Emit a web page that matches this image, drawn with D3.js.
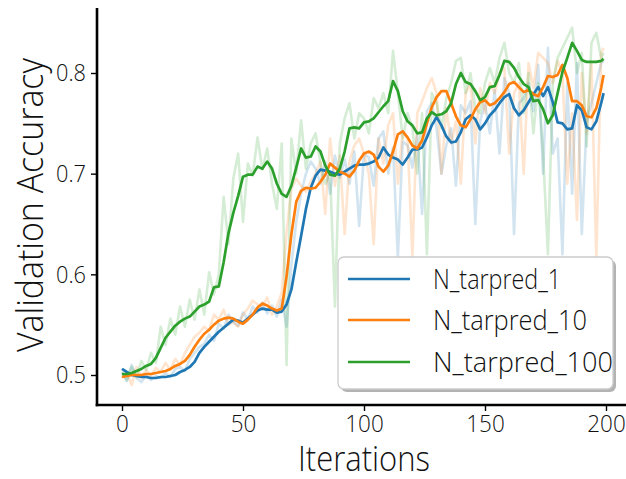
<!DOCTYPE html>
<html>
<head>
<meta charset="utf-8">
<script src="https://cdn.jsdelivr.net/npm/d3@7"></script>
<style>
  html, body { margin: 0; padding: 0; background: #fff; }
  svg { display: block; }
  text { font-family: "Open Sans", "Lato", "Roboto", sans-serif; font-weight: 300; fill: #111; }
</style>
</head>
<body>
<svg id="chart" width="626" height="479"></svg>
<script>
// ---------------- data ----------------
const iterations = [0,2,4,6,8,10,12,14,16,18,20,22,24,26,28,30,32,34,36,38,40,42,44,46,48,50,52,54,56,58,60,62,64,66,68,70,72,74,76,78,80,82,84,86,88,90,92,94,96,98,100,102,104,106,108,110,112,114,116,118,120,122,124,126,128,130,132,134,136,138,140,142,144,146,148,150,152,154,156,158,160,162,164,166,168,170,172,174,176,178,180,182,184,186,188,190,192,194,196,198,199];

const seriesNames = ["N_tarpred_1", "N_tarpred_10", "N_tarpred_100"];

// smoothed curves
const smooth1 = [0.506,0.503,0.500,0.499,0.498,0.498,0.497,0.497,0.498,0.498,0.499,0.500,0.503,0.505,0.508,0.513,0.522,0.528,0.533,0.538,0.543,0.547,0.551,0.555,0.554,0.552,0.556,0.560,0.564,0.566,0.565,0.565,0.562,0.563,0.570,0.585,0.612,0.638,0.665,0.686,0.698,0.704,0.703,0.702,0.700,0.699,0.702,0.705,0.708,0.709,0.709,0.710,0.712,0.716,0.726,0.719,0.716,0.714,0.709,0.716,0.724,0.724,0.726,0.736,0.748,0.756,0.748,0.737,0.731,0.732,0.741,0.754,0.758,0.754,0.744,0.750,0.758,0.763,0.770,0.776,0.779,0.765,0.758,0.763,0.771,0.779,0.786,0.777,0.786,0.771,0.751,0.750,0.744,0.745,0.768,0.763,0.746,0.744,0.752,0.770,0.780];
const smooth10 = [0.498,0.499,0.500,0.500,0.500,0.501,0.501,0.502,0.503,0.504,0.506,0.509,0.511,0.514,0.520,0.528,0.535,0.541,0.545,0.550,0.554,0.556,0.557,0.556,0.553,0.551,0.555,0.560,0.567,0.571,0.569,0.566,0.564,0.566,0.598,0.640,0.672,0.683,0.686,0.685,0.686,0.692,0.699,0.710,0.706,0.702,0.700,0.697,0.703,0.713,0.720,0.722,0.719,0.707,0.702,0.708,0.722,0.739,0.742,0.736,0.728,0.725,0.733,0.750,0.766,0.776,0.782,0.782,0.770,0.757,0.748,0.746,0.754,0.764,0.771,0.773,0.768,0.770,0.775,0.781,0.789,0.791,0.786,0.781,0.783,0.779,0.777,0.786,0.797,0.796,0.798,0.808,0.795,0.772,0.772,0.768,0.757,0.756,0.765,0.785,0.798];
const smooth100 = [0.501,0.501,0.502,0.504,0.506,0.509,0.511,0.517,0.527,0.537,0.543,0.549,0.553,0.556,0.558,0.563,0.568,0.570,0.573,0.587,0.588,0.612,0.641,0.661,0.678,0.697,0.699,0.699,0.707,0.705,0.712,0.705,0.690,0.680,0.677,0.688,0.706,0.725,0.716,0.717,0.727,0.722,0.708,0.699,0.698,0.705,0.722,0.745,0.746,0.745,0.751,0.752,0.755,0.761,0.767,0.772,0.792,0.782,0.762,0.752,0.748,0.740,0.741,0.755,0.761,0.758,0.759,0.762,0.770,0.789,0.800,0.791,0.789,0.782,0.773,0.776,0.786,0.787,0.798,0.812,0.811,0.805,0.796,0.789,0.786,0.772,0.773,0.764,0.750,0.758,0.780,0.801,0.815,0.830,0.822,0.813,0.811,0.811,0.811,0.812,0.814];

// raw (unsmoothed) curves
const raw1 = [0.503,0.494,0.510,0.497,0.493,0.500,0.495,0.499,0.497,0.502,0.498,0.506,0.508,0.504,0.516,0.522,0.528,0.531,0.540,0.534,0.551,0.546,0.560,0.553,0.549,0.562,0.555,0.568,0.562,0.572,0.561,0.569,0.558,0.575,0.548,0.610,0.652,0.680,0.700,0.712,0.705,0.690,0.712,0.680,0.718,0.696,0.714,0.690,0.722,0.648,0.720,0.716,0.688,0.735,0.742,0.700,0.726,0.617,0.732,0.728,0.706,0.738,0.660,0.762,0.770,0.745,0.700,0.728,0.745,0.688,0.768,0.760,0.772,0.650,0.752,0.770,0.740,0.783,0.720,0.795,0.780,0.640,0.770,0.775,0.790,0.762,0.808,0.700,0.825,0.720,0.735,0.620,0.790,0.680,0.810,0.640,0.752,0.770,0.790,0.810,0.812];
const raw10 = [0.497,0.503,0.490,0.508,0.498,0.505,0.499,0.507,0.503,0.512,0.505,0.516,0.510,0.522,0.530,0.538,0.542,0.548,0.544,0.560,0.555,0.565,0.550,0.552,0.548,0.560,0.566,0.574,0.570,0.568,0.577,0.560,0.568,0.582,0.642,0.685,0.695,0.688,0.682,0.692,0.700,0.712,0.660,0.735,0.688,0.718,0.640,0.712,0.728,0.735,0.720,0.700,0.630,0.735,0.710,0.748,0.760,0.690,0.742,0.735,0.617,0.760,0.772,0.785,0.795,0.780,0.700,0.765,0.730,0.752,0.690,0.780,0.790,0.730,0.785,0.760,0.790,0.780,0.800,0.805,0.720,0.780,0.790,0.700,0.810,0.785,0.820,0.815,0.810,0.790,0.812,0.800,0.690,0.760,0.654,0.800,0.740,0.810,0.614,0.820,0.825];
const raw100 = [0.502,0.495,0.508,0.498,0.514,0.505,0.522,0.512,0.548,0.530,0.556,0.540,0.568,0.548,0.575,0.555,0.585,0.560,0.602,0.580,0.600,0.677,0.630,0.695,0.720,0.652,0.710,0.698,0.736,0.704,0.725,0.690,0.665,0.730,0.510,0.735,0.700,0.753,0.705,0.730,0.740,0.710,0.690,0.700,0.568,0.730,0.755,0.770,0.735,0.760,0.755,0.740,0.775,0.765,0.780,0.760,0.822,0.780,0.735,0.760,0.745,0.700,0.760,0.620,0.780,0.770,0.745,0.775,0.790,0.812,0.815,0.780,0.800,0.765,0.760,0.790,0.805,0.790,0.815,0.830,0.800,0.790,0.810,0.760,0.800,0.740,0.790,0.720,0.620,0.790,0.815,0.825,0.835,0.845,0.800,0.820,0.727,0.830,0.840,0.815,0.820];

const xTicks = [0, 50, 100, 150, 200];
const yTicks = [0.5, 0.6, 0.7, 0.8];
const colors = ["#1f77b4", "#ff7f0e", "#2ca02c"];

// ---------------- drawing ----------------
const svg = d3.select("#chart");
const x = d3.scaleLinear().domain([0, 200]).range([122, 606]);
const y = d3.scaleLinear().domain([0.5, 0.8]).range([375, 73]);
const plotLeft = 97, plotBottom = 405, plotTop = 8, plotRight = 628;

const line = d3.line().x(d => x(d[0])).y(d => y(d[1]));
const rawSeries = [raw1, raw10, raw100];
const smoothSeries = [smooth1, smooth10, smooth100];

const g = svg.append("g");
rawSeries.forEach((vals, k) => {
  g.append("path")
    .datum(iterations.map((it, i) => [it, vals[i]]))
    .attr("d", line)
    .attr("fill", "none")
    .attr("stroke", colors[k])
    .attr("stroke-opacity", 0.2)
    .attr("stroke-width", 2.6)
    .attr("stroke-linejoin", "round");
});
smoothSeries.forEach((vals, k) => {
  g.append("path")
    .datum(iterations.map((it, i) => [it, vals[i]]))
    .attr("d", line)
    .attr("fill", "none")
    .attr("stroke", colors[k])
    .attr("stroke-width", 2.7)
    .attr("stroke-linejoin", "round");
});

// axes
const xAxis = svg.append("g")
  .attr("transform", `translate(0,${plotBottom})`)
  .call(d3.axisBottom(x).tickValues(xTicks).tickSize(6).tickPadding(4).tickFormat(d3.format("d")));
xAxis.select(".domain").remove();
xAxis.selectAll(".tick line").attr("stroke", "#000").attr("stroke-width", 1.4);
xAxis.selectAll(".tick text")
  .attr("font-size", 24).attr("fill", "#111")
  .attr("textLength", d => String(d).length * 12.8)
  .attr("lengthAdjust", "spacingAndGlyphs");

const yAxis = svg.append("g")
  .attr("transform", `translate(${plotLeft},0)`)
  .call(d3.axisLeft(y).tickValues(yTicks).tickSize(6).tickPadding(5).tickFormat(d3.format(".1f")));
yAxis.select(".domain").remove();
yAxis.selectAll(".tick line").attr("stroke", "#000").attr("stroke-width", 1.4);
yAxis.selectAll(".tick text")
  .attr("font-size", 24).attr("fill", "#111")
  .attr("textLength", 30)
  .attr("lengthAdjust", "spacingAndGlyphs");

// spines
svg.append("line").attr("x1", plotLeft).attr("x2", plotLeft).attr("y1", plotTop).attr("y2", plotBottom + 1.3)
  .attr("stroke", "#000").attr("stroke-width", 2.6);
svg.append("line").attr("x1", plotLeft - 1.3).attr("x2", plotRight).attr("y1", plotBottom).attr("y2", plotBottom)
  .attr("stroke", "#000").attr("stroke-width", 2.6);

// axis labels
svg.append("text")
  .attr("x", 364).attr("y", 471)
  .attr("text-anchor", "middle")
  .attr("font-size", 35)
  .attr("textLength", 132).attr("lengthAdjust", "spacingAndGlyphs")
  .text("Iterations");
svg.append("text")
  .attr("transform", "translate(43,205) rotate(-90)")
  .attr("text-anchor", "middle")
  .attr("font-size", 37)
  .attr("textLength", 294).attr("lengthAdjust", "spacingAndGlyphs")
  .text("Validation Accuracy");

// legend
const lg = svg.append("g");
lg.append("rect").attr("x", 341).attr("y", 260).attr("width", 275).attr("height", 132)
  .attr("rx", 6).attr("fill", "#999").attr("fill-opacity", 0.75);
lg.append("rect").attr("x", 338).attr("y", 257).attr("width", 275).attr("height", 132)
  .attr("rx", 6).attr("fill", "#fff").attr("stroke", "#ccc").attr("stroke-width", 1.3);
const rowsY = [279, 320, 362];
const legendWidths = [128, 154, 180];
seriesNames.forEach((name, k) => {
  lg.append("line").attr("x1", 348).attr("x2", 410).attr("y1", rowsY[k]).attr("y2", rowsY[k])
    .attr("stroke", colors[k]).attr("stroke-width", 2.7);
  lg.append("text").attr("x", 433).attr("y", rowsY[k] + 10)
    .attr("font-size", 27)
    .attr("textLength", legendWidths[k]).attr("lengthAdjust", "spacingAndGlyphs")
    .text(name);
});
</script>
</body>
</html>
